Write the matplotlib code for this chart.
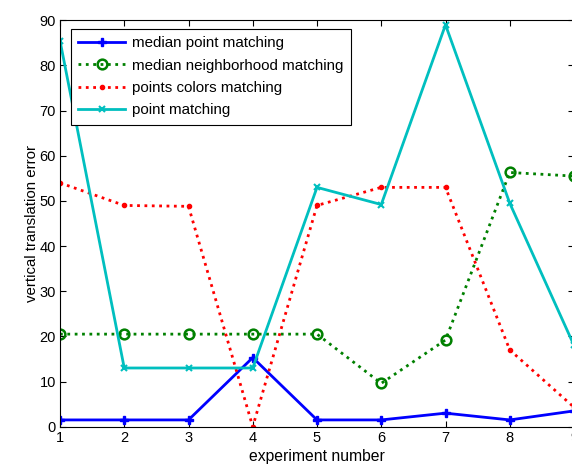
import numpy as np
import matplotlib.pyplot as plt

plt.rcParams["font.family"] = ["Liberation Sans", "DejaVu Sans"]

experiments = [1, 2, 3, 4, 5, 6, 7, 8, 9]
median_point = [1.5, 1.5, 1.5, 15.3, 1.5, 1.5, 3.0, 1.5, 3.5]
median_neigh = [20.5, 20.5, 20.5, 20.5, 20.5, 9.6, 19.2, 56.3, 55.5]
points_colors = [54.0, 49.0, 48.8, 0.0, 49.0, 53.0, 53.0, 17.0, 4.3]
point_matching = [85.5, 13.0, 13.0, 13.0, 53.0, 49.2, 89.0, 49.5, 18.0]

fig = plt.figure(figsize=(5.72, 4.67), dpi=100)
ax = fig.add_axes([60 / 572, 40.3 / 467, 514 / 572, 406.4 / 467])

ax.plot(experiments, median_point, color="blue", linestyle="-", linewidth=2,
        marker="P", markersize=6, label="median point matching")
ax.plot(experiments, median_neigh, color="green", linestyle=":", linewidth=2,
        marker="o", markersize=7, markerfacecolor="none", markeredgewidth=1.8,
        label="median neighborhood matching")
ax.plot(experiments, points_colors, color="red", linestyle=":", linewidth=2,
        marker=".", markersize=6, label="points colors matching")
ax.plot(experiments, point_matching, color="#00BFBF", linestyle="-", linewidth=2,
        marker="x", markersize=4, markeredgewidth=1.5, label="point matching")

ax.set_xlim(1, 9)
ax.set_ylim(0, 90)
ax.set_xticks(experiments)
ax.set_yticks(np.arange(0, 91, 10))
ax.tick_params(direction="in", top=True, right=True, labelsize=10.5, length=4, pad=3)
for s in ax.spines.values():
    s.set_linewidth(0.8)

ax.set_xlabel("experiment number", fontsize=11.3, labelpad=3)
ax.set_ylabel("vertical translation error", fontsize=10.8, labelpad=0)

leg = ax.legend(loc="upper left", bbox_to_anchor=(0.021, 0.979), borderaxespad=0,
                fontsize=10.9, handlelength=3.1, handletextpad=0.45, labelspacing=0.55,
                fancybox=False, framealpha=1, edgecolor="black", borderpad=0.5)
leg.get_frame().set_linewidth(0.8)

fig.savefig("out.png", dpi=100)
